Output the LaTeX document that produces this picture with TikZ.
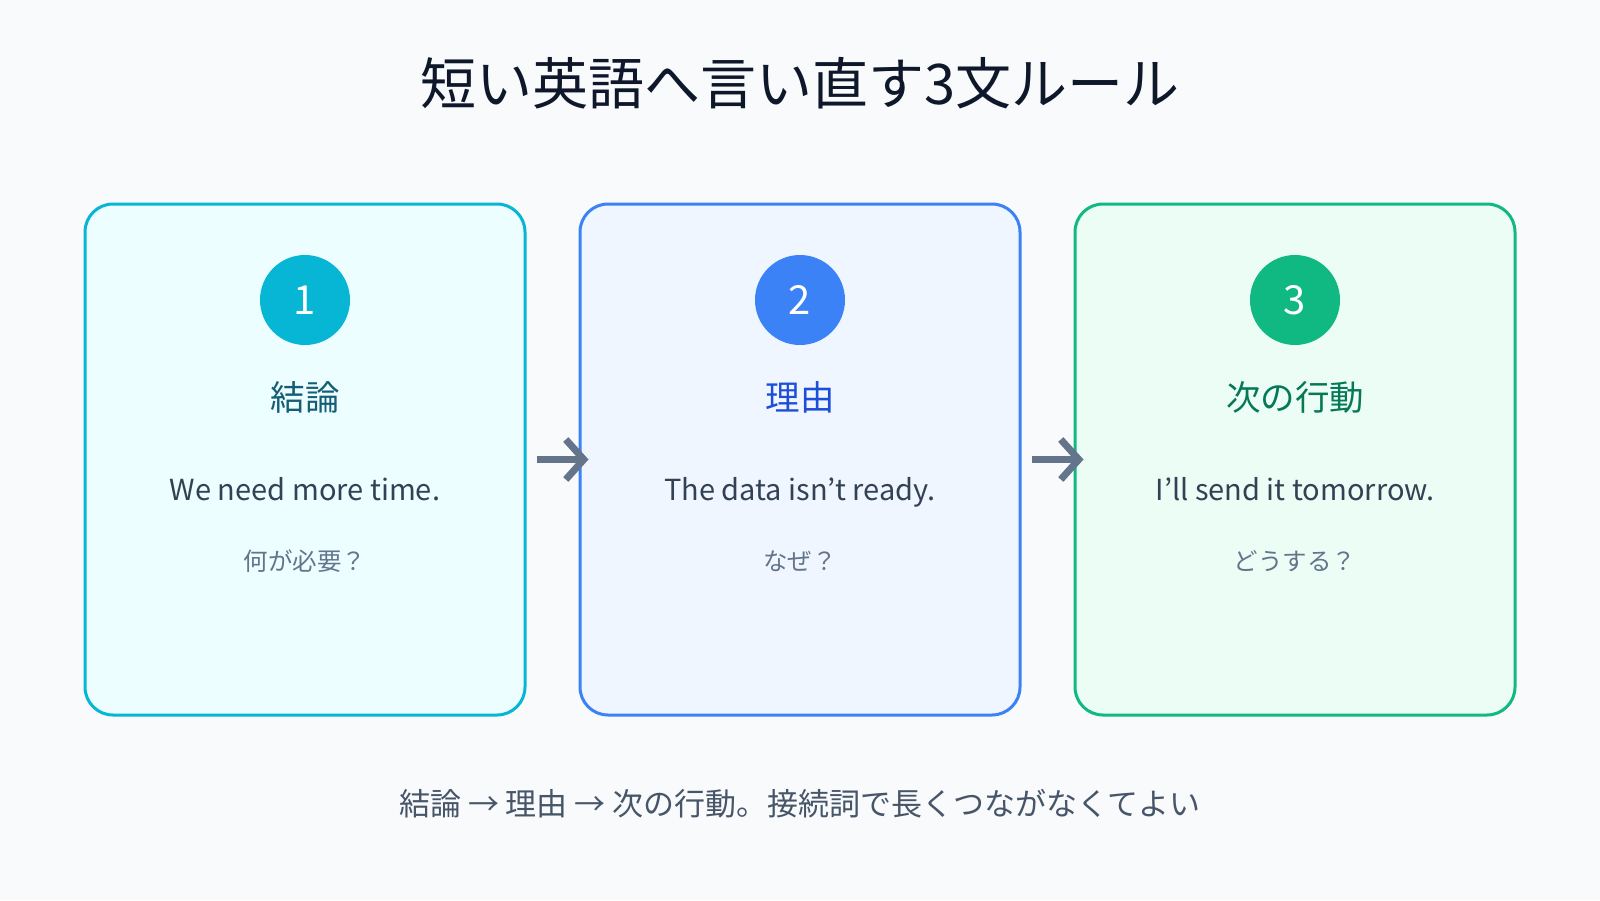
\documentclass[tikz,border=0pt]{standalone}
\usepackage{fontspec}
\setmainfont{Noto Sans CJK JP}
\usetikzlibrary{arrows.meta}
\definecolor{bg}{HTML}{F8FAFC}
\definecolor{cyanS}{HTML}{06B6D4}
\definecolor{cyanF}{HTML}{ECFEFF}
\definecolor{cyanT}{HTML}{155E75}
\definecolor{blueS}{HTML}{3B82F6}
\definecolor{blueF}{HTML}{EFF6FF}
\definecolor{blueT}{HTML}{1D4ED8}
\definecolor{greenS}{HTML}{10B981}
\definecolor{greenF}{HTML}{ECFDF5}
\definecolor{greenT}{HTML}{047857}
\definecolor{titleC}{HTML}{0F172A}
\definecolor{bodyC}{HTML}{334155}
\definecolor{mutedC}{HTML}{64748B}
\definecolor{footC}{HTML}{475569}
\tikzset{
  card/.style={draw=#1S, fill=#1F, line width=3pt, rounded corners=28pt,
    minimum width=440pt, minimum height=511pt, inner sep=0pt},
  badge/.style={circle, fill=#1S, minimum size=90pt, inner sep=0pt,
    text=white, font=\fontsize{40}{48}\selectfont},
  head/.style={text=#1T, font=\fontsize{34.5}{40}\selectfont, inner sep=0pt},
  eng/.style={text=bodyC, font=\fontsize{29}{35}\selectfont, inner sep=0pt, anchor=base},
  ques/.style={text=mutedC, font=\fontsize{24.5}{29}\selectfont, inner sep=0pt},
  flow/.style={draw=mutedC, line width=7pt, shorten <=10pt, shorten >=-10pt,
    -{Straight Barb[length=18pt, width=40pt, line width=7pt]}}
}
\begin{document}
\begin{tikzpicture}[x=1pt,y=-1pt]
\fill[bg] (0,0) rectangle (1600,900);
\useasboundingbox (0,0) rectangle (1600,900);

\node[text=titleC, font=\fontsize{56}{66}\selectfont, inner sep=0pt] (title) at (800,83) {短い英語へ言い直す3文ルール};

\node[card=cyan]  (b1) at (305,459.5) {};
\node[card=blue]  (b2) at (800,459.5) {};
\node[card=green] (b3) at (1295,459.5) {};

\node[badge=cyan]  (n1) at (305,300) {1};
\node[badge=blue]  (n2) at (800,300) {2};
\node[badge=green] (n3) at (1295,300) {3};

\node[head=cyan]  (h1) at (305,397) {結論};
\node[head=blue]  (h2) at (800,397) {理由};
\node[head=green] (h3) at (1295,397) {次の行動};

\node[eng] (e1) at (305,500) {We need more time.};
\node[eng] (e2) at (800,500) {The data isn’t ready.};
\node[eng] (e3) at (1295,500) {I’ll send it tomorrow.};

\node[ques] (q1) at (305,561) {何が必要？};
\node[ques] (q2) at (800,561) {なぜ？};
\node[ques] (q3) at (1295,561) {どうする？};

\draw[flow] (b1.east) -- (b2.west);
\draw[flow] (b2.east) -- (b3.west);

\node[text=footC, font=\fontsize{31}{37}\selectfont, inner sep=0pt] (foot) at (800,804) {結論 → 理由 → 次の行動。接続詞で長くつながなくてよい};
\end{tikzpicture}
\end{document}
